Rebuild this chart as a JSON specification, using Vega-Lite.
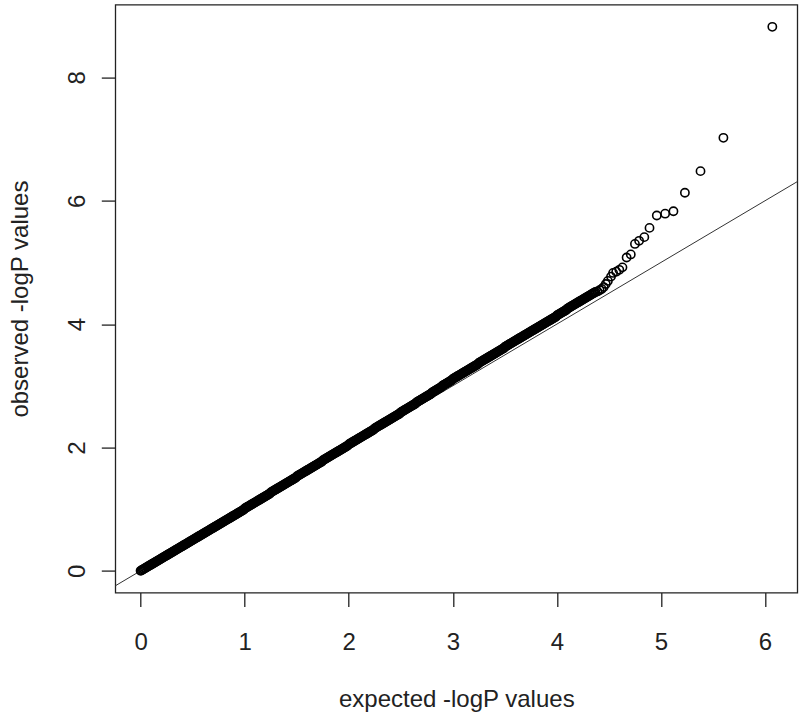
{
"$schema": "https://vega.github.io/schema/vega-lite/v6.json",
"width": 682, "height": 588,
"autosize": {"type": "none"},
"padding": {"left": 115.3, "top": 4.6, "right": 2.7, "bottom": 126.4},
"background": "white",
"config": {"view": {"stroke": "#222", "strokeWidth": 1.3}, "font": "Liberation Sans"},
"layer": [
{"data": {"values": [{"exp": -1, "obs": -1}, {"exp": 7, "obs": 7}]},
 "mark": {"type": "line", "clip": true, "color": "#333", "strokeWidth": 1},
 "encoding": {
  "x": {"field": "exp", "type": "quantitative", "scale": {"domain": [-0.243, 6.31], "nice": false, "zero": false},
   "axis": {"values": [0,1,2,3,4,5,6], "format": "d", "title": "expected -logP values", "domain": false, "grid": false, "tickSize": 14, "tickColor": "#222", "tickWidth": 1.3, "labelFontSize": 24, "labelPadding": 24, "labelBaseline": "top", "labelColor": "#222", "labelFlush": false, "labelOverlap": false, "titleFontSize": 24, "titleFontWeight": "normal", "titleColor": "#222", "titleBaseline": "alphabetic", "titleY": 114}},
  "y": {"field": "obs", "type": "quantitative", "scale": {"domain": [-0.353, 9.18], "nice": false, "zero": false},
   "axis": {"values": [0,2,4,6,8], "format": "d", "title": "observed -logP values", "domain": false, "grid": false, "tickSize": 14, "tickColor": "#222", "tickWidth": 1.3, "labelAngle": -90, "labelAlign": "center", "labelBaseline": "alphabetic", "labelPadding": 17, "labelFontSize": 24, "labelColor": "#222", "labelFlush": false, "labelOverlap": false, "titleFontSize": 24, "titleFontWeight": "normal", "titleColor": "#222", "titleBaseline": "alphabetic", "titleAngle": -90, "titleX": -88}}
 }},
{"data": {"values": [
{"exp":0,"obs":0},{"exp":0.01,"obs":0.01},{"exp":0.02,"obs":0.02},{"exp":0.03,"obs":0.03},{"exp":0.04,"obs":0.04},{"exp":0.05,"obs":0.05},{"exp":0.06,"obs":0.06},{"exp":0.07,"obs":0.07},{"exp":0.08,"obs":0.08},{"exp":0.09,"obs":0.09},
{"exp":0.1,"obs":0.1},{"exp":0.11,"obs":0.11},{"exp":0.12,"obs":0.12},{"exp":0.13,"obs":0.13},{"exp":0.14,"obs":0.14},{"exp":0.15,"obs":0.15},{"exp":0.16,"obs":0.16},{"exp":0.17,"obs":0.17},{"exp":0.18,"obs":0.18},{"exp":0.19,"obs":0.19},
{"exp":0.2,"obs":0.2},{"exp":0.21,"obs":0.21},{"exp":0.22,"obs":0.22},{"exp":0.23,"obs":0.23},{"exp":0.24,"obs":0.24},{"exp":0.25,"obs":0.25},{"exp":0.26,"obs":0.26},{"exp":0.27,"obs":0.27},{"exp":0.28,"obs":0.28},{"exp":0.29,"obs":0.29},
{"exp":0.3,"obs":0.3},{"exp":0.31,"obs":0.31},{"exp":0.32,"obs":0.32},{"exp":0.33,"obs":0.33},{"exp":0.34,"obs":0.34},{"exp":0.35,"obs":0.35},{"exp":0.36,"obs":0.36},{"exp":0.37,"obs":0.37},{"exp":0.38,"obs":0.38},{"exp":0.39,"obs":0.39},
{"exp":0.4,"obs":0.4},{"exp":0.41,"obs":0.41},{"exp":0.42,"obs":0.42},{"exp":0.43,"obs":0.43},{"exp":0.44,"obs":0.44},{"exp":0.45,"obs":0.45},{"exp":0.46,"obs":0.46},{"exp":0.47,"obs":0.47},{"exp":0.48,"obs":0.48},{"exp":0.49,"obs":0.49},
{"exp":0.5,"obs":0.5},{"exp":0.51,"obs":0.51},{"exp":0.52,"obs":0.52},{"exp":0.53,"obs":0.53},{"exp":0.54,"obs":0.54},{"exp":0.55,"obs":0.55},{"exp":0.56,"obs":0.56},{"exp":0.57,"obs":0.57},{"exp":0.58,"obs":0.58},{"exp":0.59,"obs":0.59},
{"exp":0.6,"obs":0.6},{"exp":0.61,"obs":0.61},{"exp":0.62,"obs":0.62},{"exp":0.63,"obs":0.63},{"exp":0.64,"obs":0.64},{"exp":0.65,"obs":0.65},{"exp":0.66,"obs":0.66},{"exp":0.67,"obs":0.67},{"exp":0.68,"obs":0.68},{"exp":0.69,"obs":0.69},
{"exp":0.7,"obs":0.7},{"exp":0.71,"obs":0.71},{"exp":0.72,"obs":0.72},{"exp":0.73,"obs":0.73},{"exp":0.74,"obs":0.74},{"exp":0.75,"obs":0.75},{"exp":0.76,"obs":0.76},{"exp":0.77,"obs":0.77},{"exp":0.78,"obs":0.78},{"exp":0.79,"obs":0.79},
{"exp":0.8,"obs":0.8},{"exp":0.81,"obs":0.81},{"exp":0.82,"obs":0.82},{"exp":0.83,"obs":0.83},{"exp":0.84,"obs":0.84},{"exp":0.85,"obs":0.85},{"exp":0.86,"obs":0.86},{"exp":0.87,"obs":0.87},{"exp":0.88,"obs":0.88},{"exp":0.89,"obs":0.89},
{"exp":0.9,"obs":0.9},{"exp":0.91,"obs":0.91},{"exp":0.92,"obs":0.92},{"exp":0.93,"obs":0.93},{"exp":0.94,"obs":0.94},{"exp":0.95,"obs":0.95},{"exp":0.96,"obs":0.96},{"exp":0.97,"obs":0.97},{"exp":0.98,"obs":0.98},{"exp":0.99,"obs":0.99},
{"exp":1,"obs":1.01},{"exp":1.01,"obs":1.02},{"exp":1.02,"obs":1.03},{"exp":1.03,"obs":1.04},{"exp":1.04,"obs":1.05},{"exp":1.05,"obs":1.06},{"exp":1.06,"obs":1.07},{"exp":1.07,"obs":1.08},{"exp":1.08,"obs":1.09},{"exp":1.09,"obs":1.1},
{"exp":1.1,"obs":1.11},{"exp":1.11,"obs":1.12},{"exp":1.12,"obs":1.13},{"exp":1.13,"obs":1.14},{"exp":1.14,"obs":1.15},{"exp":1.15,"obs":1.16},{"exp":1.16,"obs":1.17},{"exp":1.17,"obs":1.18},{"exp":1.18,"obs":1.19},{"exp":1.19,"obs":1.2},
{"exp":1.2,"obs":1.21},{"exp":1.21,"obs":1.22},{"exp":1.22,"obs":1.23},{"exp":1.23,"obs":1.24},{"exp":1.24,"obs":1.25},{"exp":1.25,"obs":1.27},{"exp":1.26,"obs":1.28},{"exp":1.27,"obs":1.29},{"exp":1.28,"obs":1.3},{"exp":1.29,"obs":1.31},
{"exp":1.3,"obs":1.32},{"exp":1.31,"obs":1.33},{"exp":1.32,"obs":1.34},{"exp":1.33,"obs":1.35},{"exp":1.34,"obs":1.36},{"exp":1.35,"obs":1.37},{"exp":1.36,"obs":1.38},{"exp":1.37,"obs":1.39},{"exp":1.38,"obs":1.4},{"exp":1.39,"obs":1.41},
{"exp":1.4,"obs":1.42},{"exp":1.41,"obs":1.43},{"exp":1.42,"obs":1.44},{"exp":1.43,"obs":1.45},{"exp":1.44,"obs":1.46},{"exp":1.45,"obs":1.47},{"exp":1.46,"obs":1.48},{"exp":1.47,"obs":1.49},{"exp":1.48,"obs":1.5},{"exp":1.49,"obs":1.51},
{"exp":1.5,"obs":1.53},{"exp":1.51,"obs":1.54},{"exp":1.52,"obs":1.55},{"exp":1.53,"obs":1.56},{"exp":1.54,"obs":1.57},{"exp":1.55,"obs":1.58},{"exp":1.56,"obs":1.59},{"exp":1.57,"obs":1.6},{"exp":1.58,"obs":1.61},{"exp":1.59,"obs":1.62},
{"exp":1.6,"obs":1.63},{"exp":1.61,"obs":1.64},{"exp":1.62,"obs":1.65},{"exp":1.63,"obs":1.66},{"exp":1.64,"obs":1.67},{"exp":1.65,"obs":1.68},{"exp":1.66,"obs":1.69},{"exp":1.67,"obs":1.7},{"exp":1.68,"obs":1.71},{"exp":1.69,"obs":1.72},
{"exp":1.7,"obs":1.73},{"exp":1.71,"obs":1.74},{"exp":1.72,"obs":1.75},{"exp":1.73,"obs":1.76},{"exp":1.74,"obs":1.77},{"exp":1.75,"obs":1.79},{"exp":1.76,"obs":1.8},{"exp":1.77,"obs":1.81},{"exp":1.78,"obs":1.82},{"exp":1.79,"obs":1.83},
{"exp":1.8,"obs":1.84},{"exp":1.81,"obs":1.85},{"exp":1.82,"obs":1.86},{"exp":1.83,"obs":1.87},{"exp":1.84,"obs":1.88},{"exp":1.85,"obs":1.89},{"exp":1.86,"obs":1.9},{"exp":1.87,"obs":1.91},{"exp":1.88,"obs":1.92},{"exp":1.89,"obs":1.93},
{"exp":1.9,"obs":1.94},{"exp":1.91,"obs":1.95},{"exp":1.92,"obs":1.96},{"exp":1.93,"obs":1.97},{"exp":1.94,"obs":1.98},{"exp":1.95,"obs":1.99},{"exp":1.96,"obs":2},{"exp":1.97,"obs":2.01},{"exp":1.98,"obs":2.02},{"exp":1.99,"obs":2.03},
{"exp":2,"obs":2.05},{"exp":2.01,"obs":2.06},{"exp":2.02,"obs":2.07},{"exp":2.03,"obs":2.08},{"exp":2.04,"obs":2.09},{"exp":2.05,"obs":2.1},{"exp":2.06,"obs":2.11},{"exp":2.07,"obs":2.12},{"exp":2.08,"obs":2.13},{"exp":2.09,"obs":2.14},
{"exp":2.1,"obs":2.15},{"exp":2.11,"obs":2.16},{"exp":2.12,"obs":2.17},{"exp":2.13,"obs":2.18},{"exp":2.14,"obs":2.19},{"exp":2.15,"obs":2.2},{"exp":2.16,"obs":2.21},{"exp":2.17,"obs":2.22},{"exp":2.18,"obs":2.23},{"exp":2.19,"obs":2.24},
{"exp":2.2,"obs":2.25},{"exp":2.21,"obs":2.26},{"exp":2.22,"obs":2.27},{"exp":2.23,"obs":2.28},{"exp":2.24,"obs":2.29},{"exp":2.25,"obs":2.31},{"exp":2.26,"obs":2.32},{"exp":2.27,"obs":2.33},{"exp":2.28,"obs":2.34},{"exp":2.29,"obs":2.35},
{"exp":2.3,"obs":2.36},{"exp":2.31,"obs":2.37},{"exp":2.32,"obs":2.38},{"exp":2.33,"obs":2.39},{"exp":2.34,"obs":2.4},{"exp":2.35,"obs":2.41},{"exp":2.36,"obs":2.42},{"exp":2.37,"obs":2.43},{"exp":2.38,"obs":2.44},{"exp":2.39,"obs":2.45},
{"exp":2.4,"obs":2.46},{"exp":2.41,"obs":2.47},{"exp":2.42,"obs":2.48},{"exp":2.43,"obs":2.49},{"exp":2.44,"obs":2.5},{"exp":2.45,"obs":2.51},{"exp":2.46,"obs":2.52},{"exp":2.47,"obs":2.53},{"exp":2.48,"obs":2.54},{"exp":2.49,"obs":2.55},
{"exp":2.5,"obs":2.57},{"exp":2.51,"obs":2.58},{"exp":2.52,"obs":2.59},{"exp":2.53,"obs":2.6},{"exp":2.54,"obs":2.61},{"exp":2.55,"obs":2.62},{"exp":2.56,"obs":2.63},{"exp":2.57,"obs":2.64},{"exp":2.58,"obs":2.65},{"exp":2.59,"obs":2.66},
{"exp":2.6,"obs":2.67},{"exp":2.61,"obs":2.68},{"exp":2.62,"obs":2.69},{"exp":2.63,"obs":2.7},{"exp":2.64,"obs":2.71},{"exp":2.65,"obs":2.73},{"exp":2.66,"obs":2.74},{"exp":2.67,"obs":2.75},{"exp":2.68,"obs":2.76},{"exp":2.69,"obs":2.77},
{"exp":2.7,"obs":2.78},{"exp":2.71,"obs":2.79},{"exp":2.72,"obs":2.8},{"exp":2.73,"obs":2.81},{"exp":2.74,"obs":2.82},{"exp":2.75,"obs":2.83},{"exp":2.76,"obs":2.84},{"exp":2.77,"obs":2.85},{"exp":2.78,"obs":2.86},{"exp":2.79,"obs":2.87},
{"exp":2.8,"obs":2.89},{"exp":2.81,"obs":2.9},{"exp":2.82,"obs":2.91},{"exp":2.83,"obs":2.92},{"exp":2.84,"obs":2.93},{"exp":2.85,"obs":2.94},{"exp":2.86,"obs":2.95},{"exp":2.87,"obs":2.96},{"exp":2.88,"obs":2.97},{"exp":2.89,"obs":2.98},
{"exp":2.9,"obs":3},{"exp":2.91,"obs":3.01},{"exp":2.92,"obs":3.02},{"exp":2.93,"obs":3.03},{"exp":2.94,"obs":3.04},{"exp":2.95,"obs":3.05},{"exp":2.96,"obs":3.06},{"exp":2.97,"obs":3.07},{"exp":2.98,"obs":3.08},{"exp":2.99,"obs":3.09},
{"exp":3,"obs":3.11},{"exp":3.01,"obs":3.12},{"exp":3.02,"obs":3.13},{"exp":3.03,"obs":3.14},{"exp":3.04,"obs":3.15},{"exp":3.05,"obs":3.16},{"exp":3.06,"obs":3.17},{"exp":3.07,"obs":3.18},{"exp":3.08,"obs":3.19},{"exp":3.09,"obs":3.2},
{"exp":3.1,"obs":3.21},{"exp":3.11,"obs":3.22},{"exp":3.12,"obs":3.23},{"exp":3.13,"obs":3.24},{"exp":3.14,"obs":3.25},{"exp":3.15,"obs":3.26},{"exp":3.16,"obs":3.27},{"exp":3.17,"obs":3.28},{"exp":3.18,"obs":3.29},{"exp":3.19,"obs":3.3},
{"exp":3.2,"obs":3.31},{"exp":3.21,"obs":3.32},{"exp":3.22,"obs":3.33},{"exp":3.23,"obs":3.34},{"exp":3.24,"obs":3.35},{"exp":3.25,"obs":3.37},{"exp":3.26,"obs":3.38},{"exp":3.27,"obs":3.39},{"exp":3.28,"obs":3.4},{"exp":3.29,"obs":3.41},
{"exp":3.3,"obs":3.42},{"exp":3.31,"obs":3.43},{"exp":3.32,"obs":3.44},{"exp":3.33,"obs":3.45},{"exp":3.34,"obs":3.46},{"exp":3.35,"obs":3.47},{"exp":3.36,"obs":3.48},{"exp":3.37,"obs":3.49},{"exp":3.38,"obs":3.5},{"exp":3.39,"obs":3.51},
{"exp":3.4,"obs":3.52},{"exp":3.41,"obs":3.53},{"exp":3.42,"obs":3.54},{"exp":3.43,"obs":3.55},{"exp":3.44,"obs":3.56},{"exp":3.45,"obs":3.57},{"exp":3.46,"obs":3.58},{"exp":3.47,"obs":3.59},{"exp":3.48,"obs":3.6},{"exp":3.49,"obs":3.61},
{"exp":3.5,"obs":3.63},{"exp":3.51,"obs":3.64},{"exp":3.52,"obs":3.65},{"exp":3.53,"obs":3.66},{"exp":3.54,"obs":3.67},{"exp":3.55,"obs":3.68},{"exp":3.56,"obs":3.69},{"exp":3.57,"obs":3.7},{"exp":3.58,"obs":3.71},{"exp":3.59,"obs":3.72},
{"exp":3.6,"obs":3.73},{"exp":3.61,"obs":3.74},{"exp":3.62,"obs":3.75},{"exp":3.63,"obs":3.76},{"exp":3.64,"obs":3.77},{"exp":3.65,"obs":3.78},{"exp":3.66,"obs":3.79},{"exp":3.67,"obs":3.8},{"exp":3.68,"obs":3.81},{"exp":3.69,"obs":3.82},
{"exp":3.7,"obs":3.83},{"exp":3.71,"obs":3.84},{"exp":3.72,"obs":3.85},{"exp":3.73,"obs":3.86},{"exp":3.74,"obs":3.87},{"exp":3.75,"obs":3.88},{"exp":3.76,"obs":3.89},{"exp":3.77,"obs":3.9},{"exp":3.78,"obs":3.91},{"exp":3.79,"obs":3.92},
{"exp":3.8,"obs":3.93},{"exp":3.81,"obs":3.94},{"exp":3.82,"obs":3.95},{"exp":3.83,"obs":3.96},{"exp":3.84,"obs":3.97},{"exp":3.85,"obs":3.98},{"exp":3.86,"obs":3.99},{"exp":3.87,"obs":4},{"exp":3.88,"obs":4.01},{"exp":3.89,"obs":4.02},
{"exp":3.9,"obs":4.03},{"exp":3.91,"obs":4.04},{"exp":3.92,"obs":4.05},{"exp":3.93,"obs":4.06},{"exp":3.94,"obs":4.07},{"exp":3.95,"obs":4.08},{"exp":3.96,"obs":4.09},{"exp":3.97,"obs":4.1},{"exp":3.98,"obs":4.11},{"exp":3.99,"obs":4.12},
{"exp":4,"obs":4.14},{"exp":4.01,"obs":4.15},{"exp":4.02,"obs":4.16},{"exp":4.03,"obs":4.17},{"exp":4.04,"obs":4.18},{"exp":4.05,"obs":4.19},{"exp":4.06,"obs":4.2},{"exp":4.07,"obs":4.21},{"exp":4.08,"obs":4.22},{"exp":4.09,"obs":4.23},
{"exp":4.1,"obs":4.25},{"exp":4.11,"obs":4.26},{"exp":4.12,"obs":4.27},{"exp":4.13,"obs":4.28},{"exp":4.14,"obs":4.29},{"exp":4.15,"obs":4.3},{"exp":4.16,"obs":4.31},{"exp":4.17,"obs":4.32},{"exp":4.18,"obs":4.33},{"exp":4.19,"obs":4.34},
{"exp":4.2,"obs":4.35},{"exp":4.21,"obs":4.36},{"exp":4.22,"obs":4.37},{"exp":4.23,"obs":4.38},{"exp":4.24,"obs":4.39},{"exp":4.25,"obs":4.4},{"exp":4.26,"obs":4.41},{"exp":4.27,"obs":4.42},{"exp":4.28,"obs":4.43},{"exp":4.29,"obs":4.44},
{"exp":4.3,"obs":4.45},{"exp":4.31,"obs":4.46},{"exp":4.32,"obs":4.47},{"exp":4.33,"obs":4.48},{"exp":4.34,"obs":4.49},{"exp":4.35,"obs":4.5},{"exp":4.36,"obs":4.51},
{"exp":4.37,"obs":4.52},{"exp":4.39,"obs":4.53},{"exp":4.41,"obs":4.55},{"exp":4.43,"obs":4.57},{"exp":4.45,"obs":4.6},{"exp":4.47,"obs":4.65},{"exp":4.49,"obs":4.7},{"exp":4.52,"obs":4.77},{"exp":4.54,"obs":4.83},{"exp":4.57,"obs":4.85},
{"exp":4.6,"obs":4.88},{"exp":4.63,"obs":4.92},{"exp":4.67,"obs":5.08},{"exp":4.71,"obs":5.13},{"exp":4.75,"obs":5.3},{"exp":4.79,"obs":5.35},{"exp":4.84,"obs":5.41},{"exp":4.89,"obs":5.56},{"exp":4.96,"obs":5.76},{"exp":5.04,"obs":5.79},
{"exp":5.12,"obs":5.83},{"exp":5.23,"obs":6.13},{"exp":5.38,"obs":6.48},{"exp":5.6,"obs":7.02},{"exp":6.07,"obs":8.82}
]},
 "mark": {"type": "point", "shape": "circle", "filled": false, "color": "#000", "size": 68, "strokeWidth": 1.6, "opacity": 1},
 "encoding": {
  "x": {"field": "exp", "type": "quantitative"},
  "y": {"field": "obs", "type": "quantitative"}
 }}
]
}
